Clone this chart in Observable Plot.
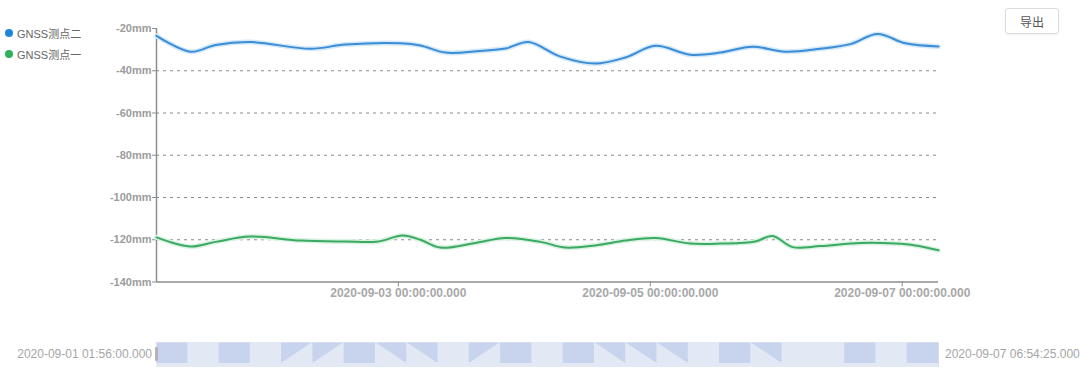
<!DOCTYPE html>
<html><head><meta charset="utf-8">
<script src="https://cdn.jsdelivr.net/npm/d3@7"></script>
<script src="https://cdn.jsdelivr.net/npm/@observablehq/plot@0.6"></script>
<style>
body{margin:0;background:#fff;font-family:"Liberation Sans","Noto Sans CJK SC",sans-serif}
#wrap{position:relative;width:1080px;height:376px;overflow:hidden;background:#fff}
#main{position:absolute;left:0;top:0}
#slider{position:absolute;left:0;top:342px}
.legend{position:absolute;left:5px;top:22px;font-size:11px;color:#666;font-family:"Liberation Sans","Noto Sans CJK SC",sans-serif}
.legend .item{display:flex;align-items:center;height:21px}
.legend .dot{width:8px;height:8px;border-radius:50%;margin-right:4px}
.btn{position:absolute;left:1005px;top:8px;width:54px;height:26px;border:1px solid #dcdcdc;border-radius:3px;box-sizing:border-box;font-size:12px;color:#555;display:flex;align-items:center;justify-content:center;font-family:"Noto Sans CJK SC",sans-serif;box-shadow:0 1px 2px rgba(0,0,0,0.05)}
.slabel{position:absolute;top:346px;font-size:12px;color:#a6a6a6;line-height:16px}
.handle{position:absolute;left:155px;top:347px;width:3px;height:14px;background:#b5b5b5;border-radius:1px}
</style></head><body><div id="wrap"><div id="main"></div><div id="slider"></div></div>
<script>
const seriesNames = ["GNSS测点二", "GNSS测点一"];
const seriesColors = ["#3a8dd6", "#3aaa62"];
const legendColors = ["#1f86de", "#2cb35a"];

const blueTimes = ["2020-09-01 01:56","2020-09-01 08:25","2020-09-01 13:12","2020-09-01 19:48","2020-09-02 07:18","2020-09-02 13:54","2020-09-03 00:24","2020-09-03 04:12","2020-09-03 09:00","2020-09-03 15:36","2020-09-03 20:24","2020-09-04 00:48","2020-09-04 06:54","2020-09-04 13:30","2020-09-04 19:18","2020-09-05 01:00","2020-09-05 07:36","2020-09-05 13:24","2020-09-05 19:30","2020-09-06 01:42","2020-09-06 08:24","2020-09-06 14:06","2020-09-06 19:18","2020-09-07 00:36","2020-09-07 06:54:25"];
const blueValues = [-23.5,-31.0,-27.8,-26.4,-29.6,-27.6,-27.0,-28.0,-31.4,-30.6,-29.5,-26.4,-33.3,-36.6,-33.7,-28.2,-32.4,-31.4,-28.6,-31.0,-29.6,-27.4,-22.6,-27.0,-28.5];

const greenTimes = ["2020-09-01 01:56","2020-09-01 08:25","2020-09-01 13:12","2020-09-01 19:48","2020-09-02 05:22","2020-09-02 13:54","2020-09-02 20:12","2020-09-03 00:48","2020-09-03 04:12","2020-09-03 08:00","2020-09-03 14:42","2020-09-03 20:24","2020-09-04 03:06","2020-09-04 07:48","2020-09-04 13:30","2020-09-04 19:18","2020-09-05 01:00","2020-09-05 07:36","2020-09-05 13:24","2020-09-05 20:00","2020-09-05 23:18","2020-09-06 03:06","2020-09-06 08:24","2020-09-06 16:00","2020-09-06 22:42","2020-09-07 02:30","2020-09-07 06:54:25"];
const greenValues = [-118.9,-123.2,-121.0,-118.5,-120.4,-120.8,-120.8,-118.0,-120.0,-123.7,-121.5,-119.2,-121.0,-123.7,-122.7,-120.4,-119.2,-121.8,-121.8,-120.8,-118.2,-123.5,-123.0,-121.5,-121.8,-122.7,-125.0];

const yTicks = [-20,-40,-60,-80,-100,-120,-140];
const gridValues = [-40,-60,-80,-100,-120];
const xTickDates = ["2020-09-03 00:00","2020-09-05 00:00","2020-09-07 00:00"];
const rangeStart = "2020-09-01 01:56:00";
const rangeEnd = "2020-09-07 06:54:25";
const exportLabel = "导出";
// data-zoom shadow: D low-low, L high-high, U low-high, N high-low
const shadowCodes = ["D","L","D","L","U","U","D","N","N","L","U","D","L","D","N","N","N","L","D","N","L","L","D","L","D"];

const parse = s => new Date(s.replace(" ", "T"));
const t0 = parse(rangeStart), t1 = parse(rangeEnd);
const fmtFull = d3.timeFormat("%Y-%m-%d %H:%M:%S.000");

const blue = blueTimes.map((t,i) => ({t: parse(t), v: blueValues[i]}));
const green = greenTimes.map((t,i) => ({t: parse(t), v: greenValues[i]}));
const font = '"Liberation Sans","Noto Sans CJK SC",sans-serif';

const main = Plot.plot({
  width: 1080, height: 300,
  marginLeft: 156, marginRight: 142, marginTop: 28, marginBottom: 18.5,
  style: {fontFamily: font, fontSize: "11px", color: "#9c9c9c", background: "transparent", overflow: "visible"},
  x: {type: "time", domain: [t0, t1]},
  y: {domain: [-140, -20]},
  marks: [
    Plot.ruleY(gridValues, {stroke: "#8a8a8a", strokeDasharray: "3,4", strokeWidth: 1}),
    Plot.axisY(yTicks, {tickFormat: d => d + "mm", tickSize: 4, tickPadding: 1, fontWeight: "bold", label: null, stroke: "#8d8d8d"}),
    Plot.axisX(xTickDates.map(parse), {tickFormat: fmtFull, tickSize: 5, tickPadding: 1, fontSize: 12, fontWeight: "bold", label: null, stroke: "#8d8d8d", fill: "#a8a8a8"}),
    Plot.ruleX([t0], {stroke: "#8d8d8d", strokeWidth: 1.5}),
    Plot.ruleY([-140], {stroke: "#8d8d8d", strokeWidth: 1.5}),
    Plot.line(blue, {x: "t", y: "v", stroke: "#d3e8f8", strokeWidth: 5, curve: "catmull-rom"}),
    Plot.line(blue, {x: "t", y: "v", stroke: seriesColors[0], strokeWidth: 2, curve: "catmull-rom"}),
    Plot.line(green, {x: "t", y: "v", stroke: "#daf2e1", strokeWidth: 5, curve: "catmull-rom"}),
    Plot.line(green, {x: "t", y: "v", stroke: seriesColors[1], strokeWidth: 2, curve: "catmull-rom"})
  ]
});
document.getElementById("main").appendChild(main);

const low = 0.16, high = 1;
const shadow = [];
shadowCodes.forEach((c, i) => {
  const a = (c === "L" || c === "N") ? high : low;
  const b = (c === "L" || c === "U") ? high : low;
  shadow.push({i: i, v: a}, {i: i + 1, v: b});
});
const slider = Plot.plot({
  width: 1080, height: 25,
  marginLeft: 156, marginRight: 142, marginTop: 0, marginBottom: 0,
  style: {background: "transparent"},
  x: {domain: [0, shadowCodes.length], axis: null},
  y: {domain: [0, 1], axis: null},
  marks: [
    Plot.frame({fill: "#c8d4ed", stroke: "#d6ddef"}),
    Plot.areaY(shadow, {x: "i", y1: 0, y2: "v", fill: "#e3e8f5", curve: "linear"})
  ]
});
document.getElementById("slider").appendChild(slider);

const wrap = document.getElementById("wrap");
const legend = document.createElement("div");
legend.className = "legend";
seriesNames.forEach((n, i) => {
  const it = document.createElement("div");
  it.className = "item";
  const dot = document.createElement("span");
  dot.className = "dot"; dot.style.background = legendColors[i];
  const tx = document.createElement("span");
  tx.textContent = n;
  it.appendChild(dot); it.appendChild(tx);
  legend.appendChild(it);
});
wrap.appendChild(legend);

const btn = document.createElement("div");
btn.className = "btn"; btn.textContent = exportLabel;
wrap.appendChild(btn);

const l1 = document.createElement("div");
l1.className = "slabel"; l1.textContent = fmtFull(t0);
l1.style.right = (1080 - 152) + "px"; l1.style.textAlign = "right";
wrap.appendChild(l1);
const l2 = document.createElement("div");
l2.className = "slabel"; l2.textContent = fmtFull(t1);
l2.style.left = "945px";
wrap.appendChild(l2);
const h = document.createElement("div");
h.className = "handle";
wrap.appendChild(h);
</script></body></html>
